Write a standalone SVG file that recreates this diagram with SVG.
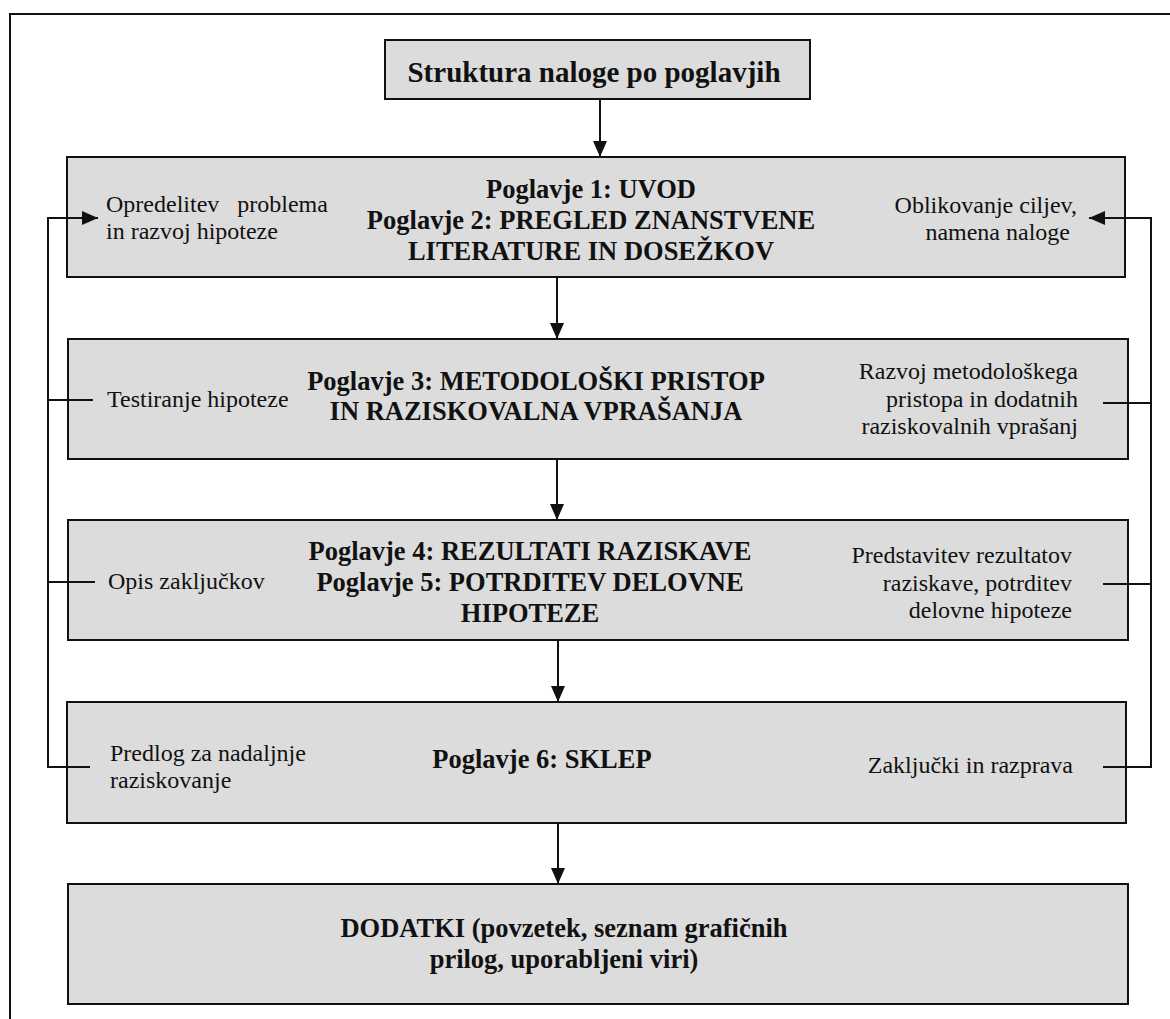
<svg xmlns="http://www.w3.org/2000/svg" width="1170" height="1019" viewBox="0 0 1170 1019">
<style>
.box{fill:#dcdcdc;stroke:#111;stroke-width:2}
.con{fill:none;stroke:#111;stroke-width:2}
.b{font-family:"Liberation Serif","Times New Roman",serif;font-weight:bold;font-size:26.5px;fill:#111;text-anchor:middle}
.t{font-family:"Liberation Serif","Times New Roman",serif;font-weight:bold;font-size:29px;fill:#111;text-anchor:middle}
.r{font-family:"Liberation Serif","Times New Roman",serif;font-size:24px;fill:#111}
.e{text-anchor:end}
</style>
<defs>
<marker id="ah" viewBox="0 0 16 14" refX="16" refY="7" markerWidth="16" markerHeight="14" markerUnits="userSpaceOnUse" orient="auto">
<path d="M0,0 L16,7 L0,14 Z" fill="#111"/>
</marker>
</defs>
<rect x="10" y="14" width="1200" height="1100" fill="#fff" stroke="#111" stroke-width="2"/>
<g id="connectors">
<line class="con" x1="600" y1="99" x2="600" y2="157" marker-end="url(#ah)"/>
<line class="con" x1="557" y1="277" x2="557" y2="339" marker-end="url(#ah)"/>
<line class="con" x1="557" y1="459" x2="557" y2="520" marker-end="url(#ah)"/>
<line class="con" x1="558" y1="640" x2="558" y2="702" marker-end="url(#ah)"/>
<line class="con" x1="558" y1="823" x2="558" y2="884" marker-end="url(#ah)"/>
</g>
<g id="title"><rect class="box" x="385" y="40" width="425" height="59"/><text class="t" x="594" y="82">Struktura naloge po poglavjih</text></g>
<g id="box1"><rect class="box" x="67" y="157" width="1058" height="120"/>
<text class="b" x="591" y="198">Poglavje 1: UVOD</text>
<text class="b" x="591" y="229">Poglavje 2: PREGLED ZNANSTVENE</text>
<text class="b" x="591" y="260">LITERATURE IN DOSEŽKOV</text>
<text class="r" x="106" y="212" xml:space="preserve">Opredelitev   problema</text>
<text class="r" x="106" y="239">in razvoj hipoteze</text>
<text class="r e" x="1077" y="213">Oblikovanje ciljev,</text>
<text class="r e" x="1070" y="240">namena naloge</text>
</g>
<g id="box2"><rect class="box" x="68" y="339" width="1060" height="120"/>
<text class="b" x="536" y="390">Poglavje 3: METODOLOŠKI PRISTOP</text>
<text class="b" x="536" y="420">IN RAZISKOVALNA VPRAŠANJA</text>
<text class="r" x="107" y="407">Testiranje hipoteze</text>
<text class="r e" x="1078" y="379">Razvoj metodološkega</text>
<text class="r e" x="1078" y="407">pristopa in dodatnih</text>
<text class="r e" x="1078" y="434">raziskovalnih vprašanj</text>
</g>
<g id="box3"><rect class="box" x="68" y="520" width="1060" height="120"/>
<text class="b" x="530" y="560">Poglavje 4: REZULTATI RAZISKAVE</text>
<text class="b" x="530" y="591">Poglavje 5: POTRDITEV DELOVNE</text>
<text class="b" x="530" y="622">HIPOTEZE</text>
<text class="r" x="108" y="589">Opis zaključkov</text>
<text class="r e" x="1072" y="563">Predstavitev rezultatov</text>
<text class="r e" x="1072" y="591">raziskave, potrditev</text>
<text class="r e" x="1072" y="618">delovne hipoteze</text>
</g>
<g id="box4"><rect class="box" x="67" y="702" width="1059" height="121"/>
<text class="b" x="542" y="768">Poglavje 6: SKLEP</text>
<text class="r" x="110" y="761">Predlog za nadaljnje</text>
<text class="r" x="110" y="788">raziskovanje</text>
<text class="r e" x="1073" y="773">Zaključki in razprava</text>
</g>
<g id="feedback">
<path class="con" d="M93,400 H48 M95,582 H48"/>
<path class="con" d="M90,767 H48 V218 H98" marker-end="url(#ah)"/>
<path class="con" d="M1103,403 H1151 M1103,584 H1151"/>
<path class="con" d="M1103,767 H1151 V218 H1089" marker-end="url(#ah)"/>
</g>
<g id="box5"><rect class="box" x="68" y="884" width="1060" height="120"/>
<text class="b" x="564" y="937">DODATKI (povzetek, seznam grafičnih</text>
<text class="b" x="564" y="968">prilog, uporabljeni viri)</text>
</g>
</svg>
